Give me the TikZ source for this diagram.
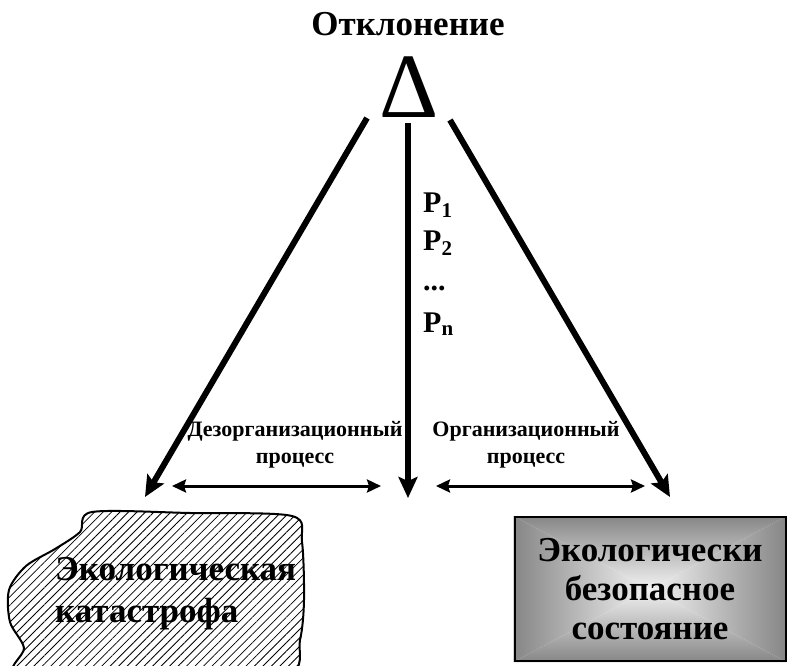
\documentclass[tikz,border=0pt]{standalone}
\usepackage{fontspec}
\setmainfont{Liberation Serif}
\usetikzlibrary{arrows.meta,patterns.meta,positioning,backgrounds}
\tikzstyle{bigarrow} = [line width=6pt,-{Stealth[length=21pt,width=19pt,inset=4pt]}]
\tikzstyle{twoarrow} = [line width=3pt,{Stealth[length=14pt,width=13pt,inset=2pt]}-{Stealth[length=14pt,width=13pt,inset=2pt]}]
\tikzstyle{heading}  = [font=\bfseries\fontsize{35}{35}\selectfont, inner sep=0pt]
\tikzstyle{proctext} = [font=\bfseries\fontsize{22}{27}\selectfont, align=center, inner sep=0pt]
\tikzstyle{ptext}    = [font=\bfseries\fontsize{30}{30}\selectfont, anchor=base west, inner sep=0pt]
\tikzstyle{bigtext}  = [font=\bfseries\fontsize{35}{39}\selectfont, inner sep=0pt]

\begin{document}
\begin{tikzpicture}[x=1pt,y=-1pt,
			safebox/.style={
					draw, line width=2pt,
					minimum width=271pt, minimum height=144pt,
					align=center
				}
		]
		\useasboundingbox (0,0) rectangle (793,666);
		% top: deviation
		\node[heading, anchor=base] (title) at (408,36) {Отклонение};
		\node[font=\fontsize{92}{92}\selectfont, anchor=base, inner sep=0pt] (dev) at (409,118) {Δ};
		% factors
		\node[ptext] (p1) at (423,212) {P\textsubscript{1}};
		\node[ptext] (p2) at (423,250) {P\textsubscript{2}};
		\node[ptext] (pdots) at (423,290) {...};
		\node[ptext] (pn) at (423,332) {P\textsubscript{n}};
		% processes
		\node[proctext] (disorg) at (295,445) {Дезорганизационный\\процесс};
		\node[proctext] (org) at (526,445) {Организационный\\процесс};
		% ecological catastrophe
		\begin{scope}
			\clip (0,0) rectangle (793,666);
			\draw[line width=2pt, pattern={Lines[angle=45,distance=6pt,line width=0.8pt]}]
				plot[smooth cycle, tension=0.5] coordinates {
						(92,512) (190,513) (292,516) (302,542) (304,600) (300,640)
						(286,675) (150,676) (18,676) (24,648) (10,622) (9,590)
						(26,566) (55,549) (80,532)};
		\end{scope}
		\node[bigtext, anchor=base west] (bad1) at (55,580) {Экологическая};
		\node[bigtext, anchor=base west] (bad2) at (55,622) {катастрофа};
		% ecologically safe state
		\node[safebox, bigtext] (safe) at (650,589) {Экологически\\безопасное\\состояние};
		\begin{scope}[on background layer]
			\shade[top color=gray!95, bottom color=gray!10] (safe.north west) -- (safe.north east) -- (safe.center) -- cycle;
			\shade[bottom color=gray!95, top color=gray!10] (safe.south west) -- (safe.south east) -- (safe.center) -- cycle;
			\shade[left color=gray!95, right color=gray!10] (safe.north west) -- (safe.south west) -- (safe.center) -- cycle;
			\shade[right color=gray!95, left color=gray!10] (safe.north east) -- (safe.south east) -- (safe.center) -- cycle;
		\end{scope}
		% arrows
		\coordinate (devL) at (367,118);
		\coordinate (devM) at (408,123);
		\coordinate (devR) at (450,120);
		\coordinate (endL) at (145,497);
		\coordinate (endM) at (408,498);
		\coordinate (endR) at (670,497);
		\draw[bigarrow] (devL) -- (endL);
		\draw[bigarrow] (devM) -- (endM);
		\draw[bigarrow] (devR) -- (endR);
		\coordinate (dl1) at (172,486);
		\coordinate (dl2) at (381,486);
		\coordinate (dr1) at (436,486);
		\coordinate (dr2) at (645,486);
		\draw[twoarrow] (dl1) -- (dl2);
		\draw[twoarrow] (dr1) -- (dr2);
	\end{tikzpicture}
\end{document}
